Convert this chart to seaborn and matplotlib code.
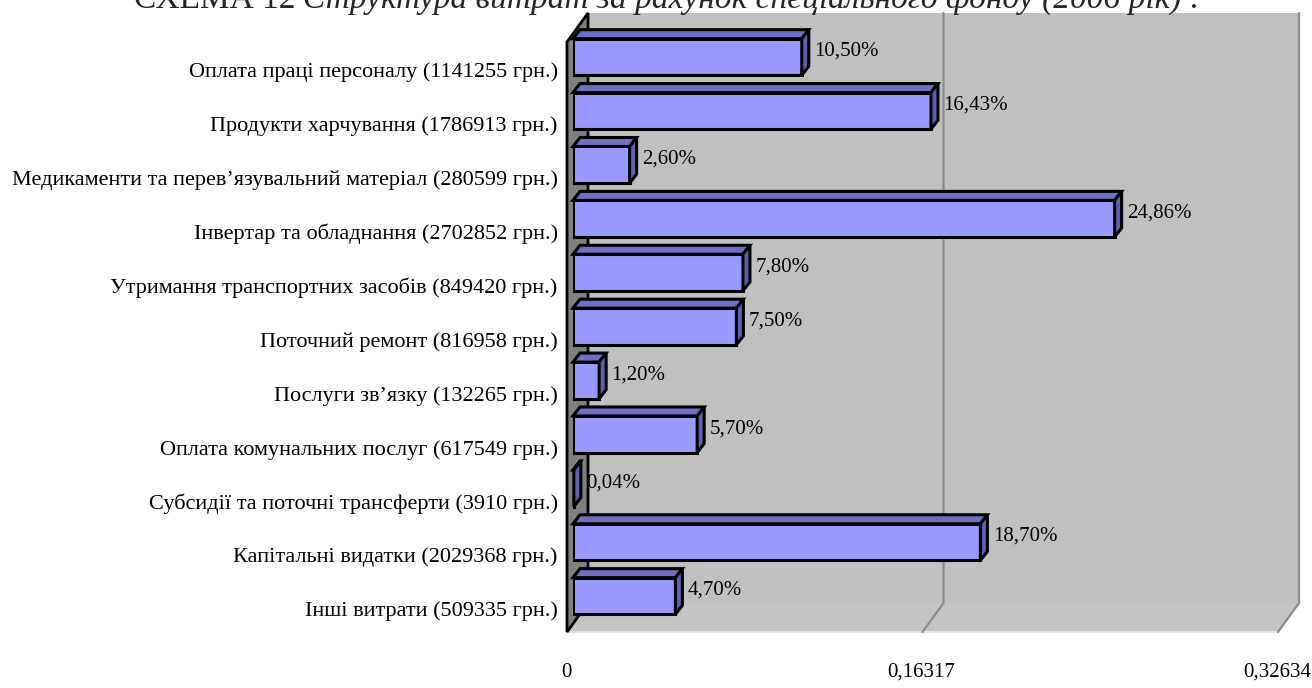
import matplotlib
matplotlib.use("Agg")
import matplotlib.pyplot as plt
import pandas as pd
import seaborn as sns
from matplotlib.patches import Polygon
from matplotlib.transforms import ScaledTranslation

categories = [
    "Оплата праці персоналу (1141255 грн.)",
    "Продукти харчування (1786913 грн.)",
    "Медикаменти та перев’язувальний матеріал (280599 грн.)",
    "Інвертар та обладнання (2702852 грн.)",
    "Утримання транспортних засобів (849420 грн.)",
    "Поточний ремонт (816958 грн.)",
    "Послуги зв’язку (132265 грн.)",
    "Оплата комунальних послуг (617549 грн.)",
    "Субсидії та поточні трансферти (3910 грн.)",
    "Капітальні видатки (2029368 грн.)",
    "Інші витрати (509335 грн.)",
]
shares = [0.1050, 0.1643, 0.0260, 0.2486, 0.0780, 0.0750, 0.0120, 0.0570, 0.0004, 0.1870, 0.0470]
share_labels = ["10,50%", "16,43%", "2,60%", "24,86%", "7,80%", "7,50%",
                "1,20%", "5,70%", "0,04%", "18,70%", "4,70%"]
axis_ticks = [0, 0.16317, 0.32634]
axis_tick_labels = ["0", "0,16317", "0,32634"]

sns.set_theme(style="white")
plt.rcParams["font.family"] = ["Liberation Serif", "DejaVu Serif"]

W, H = 1312, 688
fig = plt.figure(figsize=(W / 100, H / 100), dpi=100)
fig.patch.set_facecolor("white")
ax = fig.add_axes([573 / W, (H - 624) / H, 711 / W, 590 / H])
ax.set_facecolor("none")

df = pd.DataFrame({"category": categories, "share": shares})
sns.barplot(data=df, x="share", y="category", orient="h", color="#9999FF",
            saturation=1, edgecolor="black", linewidth=2.2, width=0.68, ax=ax, zorder=3)

ax.set_xlim(0, axis_ticks[-1])
ax.set_ylim(len(categories) - 0.48, -0.427)
for s in ax.spines.values():
    s.set_visible(False)
ax.grid(False)
ax.set_xlabel("")
ax.set_ylabel("")

tr = ax.transData
inv = tr.inverted()


def push(x, y, dx, dy):
    px, py = tr.transform((x, y))
    return tuple(inv.transform((px + dx, py + dy)))


front = (-6, -8)
back = (15, 21)
y0, y1 = ax.get_ylim()
x0, x1 = ax.get_xlim()

# back wall and floor
wall = [push(x0, y0, *back), push(x1, y0, *back), push(x1, y1, *back), push(x0, y1, *back)]
ax.add_patch(Polygon(wall, closed=True, fc="#C0C0C0", ec="none", zorder=0, clip_on=False))
floor = [push(x0, y0, *front), push(x1, y0, *front), push(x1, y0, *back), push(x0, y0, *back)]
ax.add_patch(Polygon(floor, closed=True, fc="#C4C4C4", ec="none", zorder=0, clip_on=False))
ax.plot([push(x0, y0, *front)[0], push(x1, y0, *front)[0]],
        [push(x0, y0, *front)[1], push(x1, y0, *front)[1]],
        color="#E2E2E2", lw=1.5, zorder=0.5, clip_on=False)

# gridlines on wall and floor
for v in axis_ticks[1:]:
    pts = [push(v, y1, *back), push(v, y0, *back), push(v, y0, *front)]
    ax.plot([p[0] for p in pts], [p[1] for p in pts], color="#8C8C8C", lw=1.6,
            zorder=1, clip_on=False)

# left side wall
side = [push(x0, y0, *front), push(x0, y1, *front), push(x0, y1, *back), push(x0, y0, *back)]
ax.add_patch(Polygon(side, closed=True, fc="#808080", ec="black", lw=2, zorder=2,
                     clip_on=False, joinstyle="miter"))

# 3d faces of the bars
depth = (7, 9)
for patch, lbl in zip(ax.patches, share_labels):
    bx0 = patch.get_x()
    bx1 = bx0 + patch.get_width()
    top = patch.get_y()
    bot = top + patch.get_height()
    top_face = [(bx0, top), (bx1, top), push(bx1, top, *depth), push(bx0, top, *depth)]
    right_face = [(bx1, top), (bx1, bot), push(bx1, bot, *depth), push(bx1, top, *depth)]
    ax.add_patch(Polygon(top_face, closed=True, fc="#6F6FC4", ec="black", lw=2.2,
                         zorder=3, clip_on=False, joinstyle="miter"))
    ax.add_patch(Polygon(right_face, closed=True, fc="#5F5FB0", ec="black", lw=2.2,
                         zorder=3, clip_on=False, joinstyle="miter"))
    ax.annotate(lbl, (bx1, top + patch.get_height() / 2), xytext=(9, 4),
                textcoords="offset points", ha="left", va="center",
                fontsize=15, color="black", zorder=5)

ax.set_xticks(axis_ticks, axis_tick_labels)
ax.tick_params(axis="x", length=0, pad=28, labelsize=15, colors="black")
ax.tick_params(axis="y", length=0, pad=11, labelsize=16, colors="black")
for lab in ax.get_xticklabels():
    lab.set_transform(lab.get_transform() + ScaledTranslation(-0.07, 0, fig.dpi_scale_trans))
for lab in ax.get_yticklabels():
    lab.set_transform(lab.get_transform() + ScaledTranslation(0, -0.13, fig.dpi_scale_trans))

fig.text(296 / W, 1 - 8 / H, "СХЕМА 12", ha="right", va="baseline", fontsize=24)
fig.text(303 / W, 1 - 8 / H, "Структура витрат за рахунок спеціального фонду (2006 рік) :",
         ha="left", va="baseline", fontsize=24, style="italic")

fig.savefig("out.png", dpi=100)
